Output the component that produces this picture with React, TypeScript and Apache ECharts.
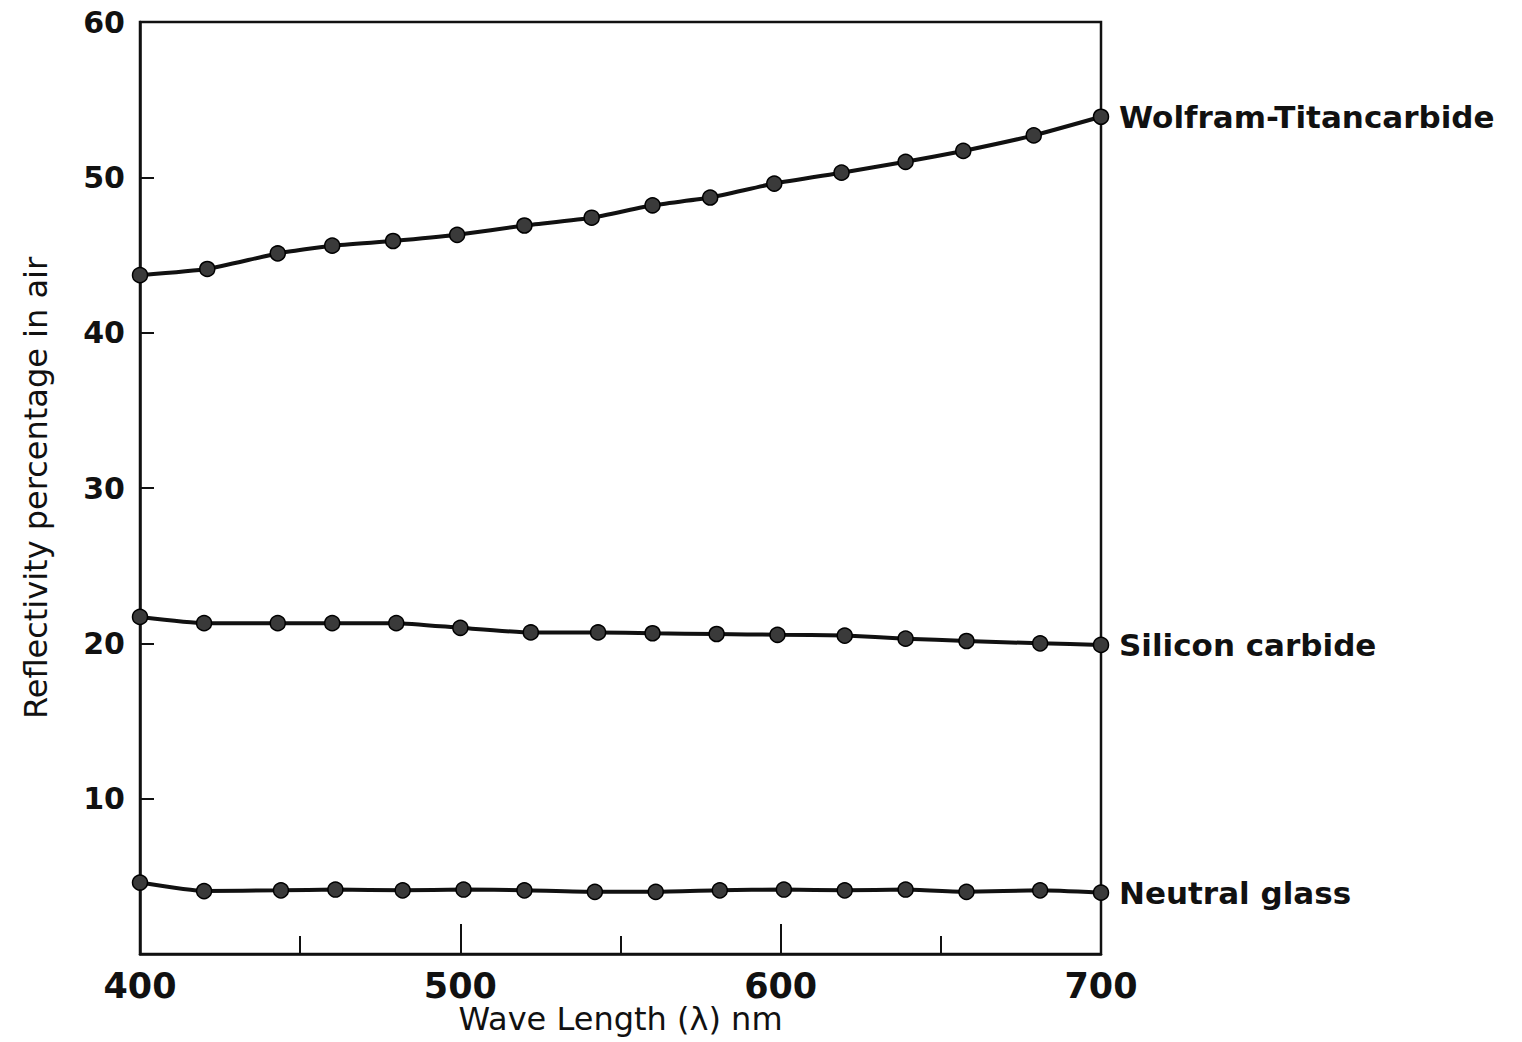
import React, { useEffect, useRef } from "react";
import * as echarts from "echarts";

const xTicks = [400, 500, 600, 700];
const yTicks = [10, 20, 30, 40, 50, 60];

const wolframName = "Wolfram-Titancarbide";
const wolframX = [400, 421, 443, 460, 479, 499, 520, 541, 560, 578, 598, 619, 639, 657, 679, 700];
const wolframY = [43.7, 44.1, 45.1, 45.6, 45.9, 46.3, 46.9, 47.4, 48.2, 48.7, 49.6, 50.3, 51.0, 51.7, 52.7, 53.9];

const siliconName = "Silicon carbide";
const siliconX = [400, 420, 443, 460, 480, 500, 522, 543, 560, 580, 599, 620, 639, 658, 681, 700];
const siliconY = [21.7, 21.3, 21.3, 21.3, 21.3, 21.0, 20.7, 20.7, 20.65, 20.6, 20.55, 20.5, 20.3, 20.15, 20.0, 19.9];

const glassName = "Neutral glass";
const glassX = [400, 420, 444, 461, 482, 501, 520, 542, 561, 581, 601, 620, 639, 658, 681, 700];
const glassY = [4.6, 4.05, 4.1, 4.15, 4.1, 4.15, 4.1, 4.0, 4.0, 4.1, 4.15, 4.1, 4.15, 4.0, 4.1, 3.95];

const FONT = "DejaVu Sans";

function pairs(xs: number[], ys: number[]) {
  return xs.map((x, i) => [x, ys[i]]);
}

function makeSeries(name: string, xs: number[], ys: number[]) {
  return {
    name,
    type: "line",
    data: pairs(xs, ys),
    smooth: 0.15,
    symbol: "circle",
    symbolSize: 15,
    lineStyle: { color: "#111", width: 4 },
    itemStyle: { color: "#3a3a3a", borderColor: "#000", borderWidth: 1.5 },
    endLabel: {
      show: true,
      formatter: name,
      color: "#111",
      fontSize: 31,
      fontWeight: "bold",
      fontFamily: FONT,
      distance: 18,
    },
    z: 3,
  };
}

export default function App() {
  const ref = useRef<HTMLDivElement>(null);
  useEffect(() => {
    const chart = echarts.init(ref.current!, null, { renderer: "svg" });
    chart.setOption({
      animation: false,
      backgroundColor: "#fff",
      grid: {
        left: 140,
        top: 22,
        width: 961,
        height: 932,
        containLabel: false,
        outerBoundsMode: "none",
        show: true,
        borderColor: "#111",
        borderWidth: 2.5,
      },
      xAxis: {
        type: "value",
        min: 400,
        max: 700,
        interval: 100,
        name: "Wave Length (λ) nm",
        nameLocation: "middle",
        nameGap: 48,
        nameMoveOverlap: false,
        nameTextStyle: { fontSize: 32, lineHeight: 34, fontFamily: FONT, color: "#111" },
        axisLine: { show: true, lineStyle: { color: "#111", width: 2.5 } },
        axisTick: { show: true, inside: true, length: 30, lineStyle: { color: "#111", width: 2 } },
        minorTick: { show: true, splitNumber: 2, length: 18, lineStyle: { color: "#111", width: 2 } },
        splitLine: { show: false },
        axisLabel: {
          fontSize: 35,
          fontWeight: "bold",
          fontFamily: FONT,
          color: "#111",
          margin: 14,
          customValues: xTicks,
        },
      },
      yAxis: {
        type: "value",
        min: 0,
        max: 60,
        interval: 10,
        name: "Reflectivity percentage in air",
        nameLocation: "middle",
        nameGap: 88,
        nameMoveOverlap: false,
        nameTextStyle: { fontSize: 32, fontFamily: FONT, color: "#111" },
        axisLine: { show: true, lineStyle: { color: "#111", width: 2.5 } },
        axisTick: { show: true, inside: true, length: 14, lineStyle: { color: "#111", width: 2 } },
        splitLine: { show: false },
        axisLabel: {
          fontSize: 30,
          fontWeight: "bold",
          fontFamily: FONT,
          color: "#111",
          margin: 15,
          formatter: (v: number) => (yTicks.includes(v) ? String(v) : ""),
        },
      },
      series: [
        makeSeries(wolframName, wolframX, wolframY),
        makeSeries(siliconName, siliconX, siliconY),
        makeSeries(glassName, glassX, glassY),
      ],
    });
    return () => chart.dispose();
  }, []);
  return (
    <div
      ref={ref}
      style={{ position: "fixed", left: 0, top: 0, width: 1522, height: 1042, background: "#fff" }}
    />
  );
}
